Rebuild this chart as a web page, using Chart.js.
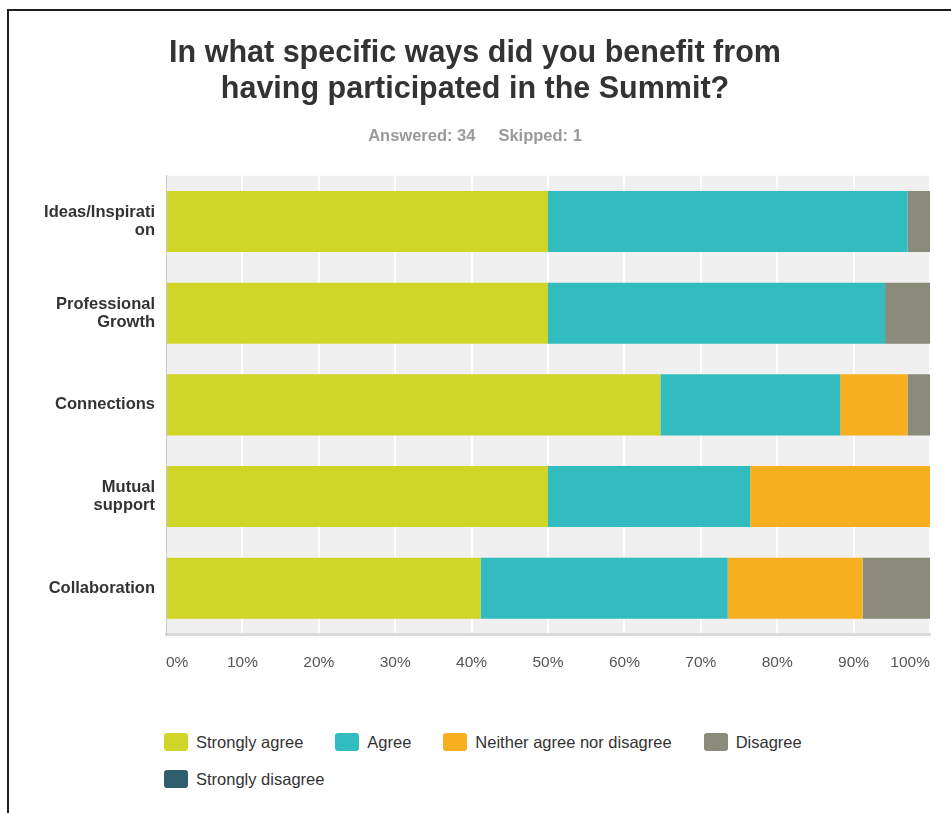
<!DOCTYPE html>
<html>
<head>
<meta charset="utf-8">
<script src="https://cdn.jsdelivr.net/npm/chart.js@4/dist/chart.umd.min.js"></script>
<style>
  html, body { margin: 0; padding: 0; background: #fff; }
  body { width: 951px; height: 813px; position: relative; overflow: hidden; font-family: 'Liberation Sans', Arial, sans-serif; }
  #frame { position: absolute; left: 7px; top: 9px; width: 960px; height: 820px; border-left: 2px solid #1e1e1e; border-top: 2px solid #1e1e1e; box-sizing: border-box; }
  #chart { position: absolute; left: 0; top: 0; }
  #legend { position: absolute; left: 164px; top: 733px; width: 680px; display: flex; flex-wrap: wrap; column-gap: 32px; row-gap: 19px; }
  .item { display: flex; align-items: center; height: 18px; font-size: 16.5px; color: #333; white-space: nowrap; }
  .box { width: 24px; height: 18px; border-radius: 3px; margin-right: 8px; }
</style>
</head>
<body>
<div id="frame"></div>
<canvas id="chart" width="951" height="700"></canvas>
<div id="legend"></div>
<script>
// ---- data ----
const categories = [['Ideas/Inspirati', 'on'], ['Professional', 'Growth'], ['Connections'], ['Mutual', 'support'], ['Collaboration']];
const seriesNames = ['Strongly agree', 'Agree', 'Neither agree nor disagree', 'Disagree', 'Strongly disagree'];
const stronglyAgree    = [50.00, 50.00, 64.71, 50.00, 41.18];
const agree            = [47.06, 44.12, 23.53, 26.47, 32.35];
const neither          = [0.00, 0.00, 8.82, 23.53, 17.65];
const disagree         = [2.94, 5.88, 2.94, 0.00, 8.82];
const stronglyDisagree = [0.00, 0.00, 0.00, 0.00, 0.00];
const tickLabels = ['0%', '10%', '20%', '30%', '40%', '50%', '60%', '70%', '80%', '90%', '100%'];
const titleLines = ['In what specific ways did you benefit from', 'having participated in the Summit?'];
const subtitleText = 'Answered: 34     Skipped: 1';

const colors = ['#cfd628', '#33bcbf', '#f7af1f', '#8a8b7a', '#2f5f6d'];
const seriesValues = [stronglyAgree, agree, neither, disagree, stronglyDisagree];

const FONT = "'Liberation Sans', Arial, sans-serif";

const plotBg = {
  id: 'plotBg',
  beforeDraw(chart) {
    const {ctx, chartArea: a} = chart;
    ctx.save();
    ctx.fillStyle = '#f0f0f0';
    ctx.fillRect(a.left, a.top, a.right - a.left, a.bottom - a.top);
    ctx.restore();
  }
};

new Chart(document.getElementById('chart'), {
  type: 'bar',
  data: {
    labels: categories,
    datasets: seriesNames.map((name, i) => ({
      label: name,
      data: seriesValues[i],
      backgroundColor: colors[i],
      borderWidth: 0,
      barPercentage: 0.666,
      categoryPercentage: 1.0
    }))
  },
  options: {
    indexAxis: 'y',
    responsive: false,
    animation: false,
    devicePixelRatio: 1,
    layout: { padding: { left: 20, right: 21, top: 0, bottom: 0 } },
    plugins: {
      legend: { display: false },
      tooltip: { enabled: false },
      title: {
        display: true,
        text: titleLines,
        color: '#333333',
        font: { family: FONT, size: 30.5, weight: 'bold', lineHeight: 1.18 },
        padding: { top: 36, bottom: 0 }
      },
      subtitle: {
        display: true,
        text: subtitleText,
        color: '#9a9a9a',
        font: { family: FONT, size: 16.5, weight: 'bold', lineHeight: 1.2 },
        padding: { top: 19, bottom: 29 }
      }
    },
    scales: {
      x: {
        stacked: true,
        min: 0,
        max: 100,
        afterFit(s) { s.height = 66; },
        grid: { color: '#ffffff', lineWidth: 2, drawTicks: false },
        border: { display: true, color: '#dadada', width: 3 },
        ticks: {
          stepSize: 10,
          align: 'inner',
          padding: 19,
          color: '#555555',
          font: { family: FONT, size: 15.5 },
          callback: (v, i) => tickLabels[i]
        }
      },
      y: {
        stacked: true,
        afterFit(s) { s.width = 146; },
        grid: { color: 'rgba(0,0,0,0)', drawTicks: false },
        border: { display: true, color: '#cccccc', width: 1 },
        ticks: {
          padding: 11,
          color: '#333333',
          font: { family: FONT, size: 16.5, weight: 'bold', lineHeight: 1.12 }
        }
      }
    }
  },
  plugins: [plotBg]
});

// legend (HTML, built from series names and colours)
const legend = document.getElementById('legend');
seriesNames.forEach((name, i) => {
  const item = document.createElement('div');
  item.className = 'item';
  const box = document.createElement('span');
  box.className = 'box';
  box.style.background = colors[i];
  const txt = document.createElement('span');
  txt.textContent = name;
  item.appendChild(box);
  item.appendChild(txt);
  legend.appendChild(item);
});
</script>
</body>
</html>
